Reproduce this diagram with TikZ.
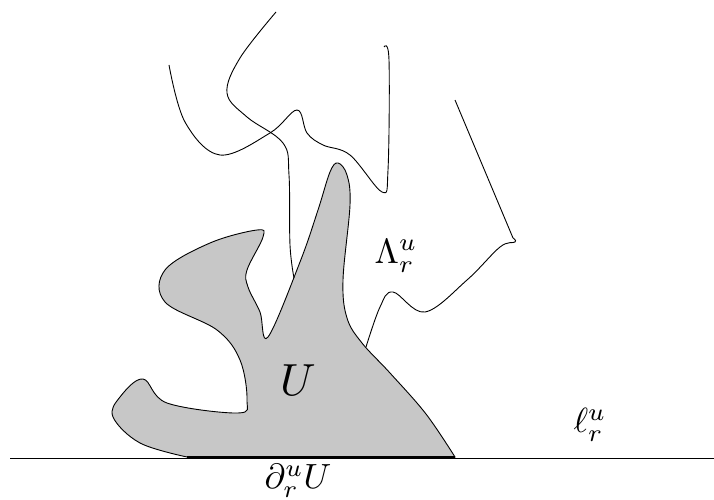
\documentclass[tikz,border=0pt]{standalone}
\usetikzlibrary{calc}
\definecolor{ufill}{gray}{0.78}
\tikzset{
  curve/.style={line width=0.9pt, black},
  lbl/.style={inner sep=0pt, scale=3.5},
  biglbl/.style={inner sep=0pt, scale=4.5}
}
\begin{document}
\begin{tikzpicture}[x=1pt,y=-1pt]
\useasboundingbox (0,0) rectangle (714,500);
% region U
\draw[curve, fill=ufill] plot[smooth, tension=0.6] coordinates {
 (455,457) (426,414) (390,373) (362,343) (347,318) (343,280) (350,205) (347,175) (338,163) (330,172) (318,210) (300,262) (268,337) (260,312) (248,287) (247,270) (263,237) (257,230) (210,243) (165,270) (165,302) (217,330) (240,360) (247,400) (238,413) (167,403) (143,379) (120,397) (113,417) (140,443) (187,457)} -- cycle;
% baseline
\coordinate (l0) at (10,458);
\coordinate (l1) at (714,458);
\draw[curve] (l0) -- (l1);
\coordinate (b0) at (187,457);
\coordinate (b1) at (455,457);
\draw[line width=3pt] (b0) -- (b1);
% curve 1
\draw[curve] plot[smooth, tension=0.6] coordinates {
 (169,65) (185,122) (220,155) (270,133) (297,110) (307,133) (323,145) (350,155) (382,192) (388,170) (389,60) (384,47)};
% curve 2
\draw[curve] plot[smooth, tension=0.6] coordinates {
 (276,12) (240,58) (227,93) (247,117) (283,143) (289,175) (290,245) (294,278)};
% curve 3
\draw[curve] (455,100) -- (513,238) plot[smooth, tension=0.6] coordinates {
 (513,238) (515,242) (500,247) (467,280) (425,312) (393,292) (380,307) (366,347)};
% labels
\node[biglbl] (U) at (298,380) {$U$};
\node[lbl] (Lam) at (396,256) {$\Lambda_r^u$};
\node[lbl] (ell) at (590,425) {$\ell_r^u$};
\node[lbl] (dU) at (298,481) {$\partial_r^u U$};
\end{tikzpicture}
\end{document}
